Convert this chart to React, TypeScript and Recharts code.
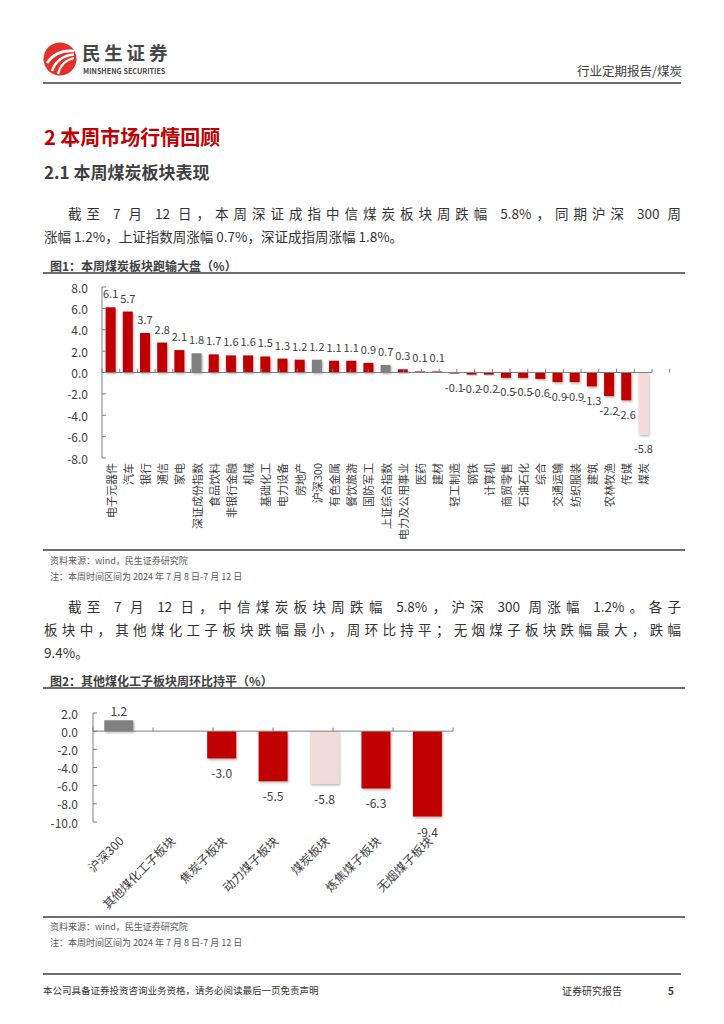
import React from "react";
import { BarChart, Bar, XAxis, YAxis, Cell, ReferenceLine } from "recharts";

const FONT = '"Noto Sans CJK SC", "Noto Sans", sans-serif';
const RED = "#C00000";
const GRAY = "#808080";
const PINK = "#F2DCDB";
const AXIS = "#7F7F7F";
const INK = "#404040";

// 图1：本周煤炭板块跑输大盘
const fig1Names = [
  "电子元器件", "汽车", "银行", "通信", "家电", "深证成份指数", "食品饮料", "非银行金融",
  "机械", "基础化工", "电力设备", "房地产", "沪深300", "有色金属", "餐饮旅游", "国防军工",
  "上证综合指数", "电力及公用事业", "医药", "建材", "轻工制造", "钢铁", "计算机", "商贸零售",
  "石油石化", "综合", "交通运输", "纺织服装", "建筑", "农林牧渔", "传媒", "煤炭",
];
const fig1Values = [
  6.1, 5.7, 3.7, 2.8, 2.1, 1.8, 1.7, 1.6, 1.6, 1.5, 1.3, 1.2, 1.2, 1.1, 1.1, 0.9,
  0.7, 0.3, 0.1, 0.1, -0.1, -0.2, -0.2, -0.5, -0.5, -0.6, -0.9, -0.9, -1.3, -2.2, -2.6, -5.8,
];
const fig1Indexes = ["深证成份指数", "沪深300", "上证综合指数"];
const fig1Focus = "煤炭";
const fig1Ticks = [-8, -6, -4, -2, 0, 2, 4, 6, 8];

// 图2：其他煤化工子板块周环比持平
const fig2Names = ["沪深300", "其他煤化工子板块", "焦炭子板块", "动力煤子板块", "煤炭板块", "炼焦煤子板块", "无烟煤子板块"];
const fig2Values = [1.2, 0.0, -3.0, -5.5, -5.8, -6.3, -9.4];
const fig2Indexes = ["沪深300"];
const fig2Focus = "煤炭板块";
const fig2Ticks = [-10, -8, -6, -4, -2, 0, 2];

const fig1Data = fig1Names.map((name, i) => ({ name, v: fig1Values[i] }));
const fig2Data = fig2Names.map((name, i) => ({ name, v: fig2Values[i] }));

const colorOf = (name: string, indexes: string[], focus: string) =>
  name === focus ? PINK : indexes.includes(name) ? GRAY : RED;

function makeYTick(margin: number, fontSize: number) {
  return (props: any) => {
    const { x, y, payload } = props;
    return (
      <g>
        <line x1={x + margin} x2={x + margin + 4} y1={y} y2={y} stroke={AXIS} strokeWidth={1} />
        <text x={x} y={y} textAnchor="end" dominantBaseline="central" fontSize={fontSize} fill={INK} fontFamily={FONT}>
          {Number(payload.value).toFixed(1)}
        </text>
      </g>
    );
  };
}

function VerticalTick(props: any) {
  const { x, y, payload } = props;
  return (
    <text
      transform={`translate(${x},${y}) rotate(-90)`}
      textAnchor="end"
      dominantBaseline="central"
      fontSize={11}
      fill={INK}
      fontFamily={FONT}
    >
      {payload.value}
    </text>
  );
}

function SlantTick(props: any) {
  const { x, y, payload } = props;
  return (
    <text
      transform={`translate(${x + 2},${y}) rotate(-45)`}
      textAnchor="end"
      dominantBaseline="central"
      fontSize={12}
      fill={INK}
      fontFamily={FONT}
    >
      {payload.value}
    </text>
  );
}

function makeValueLabel(fontSize: number, above: number, below: number) {
  return (props: any) => {
    const { x, y, width, height, value } = props;
    const top = Math.min(y, y + height);
    const bottom = Math.max(y, y + height);
    const ty = value >= 0 ? top - above : bottom + below;
    return (
      <text x={x + width / 2} y={ty} textAnchor="middle" fontSize={fontSize} fill={INK} fontFamily={FONT}>
        {Number(value).toFixed(1)}
      </text>
    );
  };
}

function BoundaryTicks(count: number, height: number) {
  return Array.from({ length: count + 1 }, (_, i) => (
    <ReferenceLine
      key={`b-${i}`}
      xAxisId="n"
      segment={[{ x: i, y: 0 }, { x: i, y: height }]}
      stroke={AXIS}
      strokeWidth={1}
      ifOverflow="visible"
    />
  ));
}

function Shadow({ id }: { id: string }) {
  return (
    <defs>
      <filter id={id} x="-30%" y="-30%" width="160%" height="160%">
        <feDropShadow dx={1} dy={1.5} stdDeviation={0.8} floodColor="#000" floodOpacity={0.3} />
      </filter>
    </defs>
  );
}

function Chart1() {
  return (
    <BarChart
      width={650}
      height={265}
      data={fig1Data}
      margin={{ top: 12, right: 38, bottom: 0, left: 0 }}
      barCategoryGap="21%"
    >
      <Shadow id="sh1" />
      <XAxis
        xAxisId="c"
        dataKey="name"
        interval={0}
        axisLine={false}
        tickLine={false}
        tickSize={0}
        tickMargin={5}
        height={82}
        tick={<VerticalTick />}
      />
      <XAxis xAxisId="n" type="number" domain={[0, fig1Names.length]} hide />
      <YAxis
        domain={[-8, 8]}
        ticks={fig1Ticks}
        width={62}
        axisLine={{ stroke: AXIS }}
        tickLine={false}
        tickSize={0}
        tickMargin={14}
        tick={makeYTick(14, 12)}
        interval={0}
      />
      <ReferenceLine xAxisId="c" y={0} stroke={AXIS} strokeWidth={1} />
      {BoundaryTicks(fig1Names.length, 0.35)}
      <Bar xAxisId="c" dataKey="v" isAnimationActive={false} label={makeValueLabel(11, 9, 18.5)}>
        {fig1Data.map((d) => (
          <Cell key={d.name} fill={colorOf(d.name, fig1Indexes, fig1Focus)} filter="url(#sh1)" />
        ))}
      </Bar>
    </BarChart>
  );
}

function Chart2() {
  return (
    <BarChart
      width={421}
      height={212}
      data={fig2Data}
      margin={{ top: 13, right: 8, bottom: 0, left: 0 }}
      barCategoryGap="22%"
    >
      <Shadow id="sh2" />
      <XAxis
        xAxisId="c"
        dataKey="name"
        interval={0}
        axisLine={false}
        tickLine={false}
        tickSize={0}
        tickMargin={16}
        height={90}
        tick={<SlantTick />}
      />
      <XAxis xAxisId="n" type="number" domain={[0, fig2Names.length]} hide />
      <YAxis
        domain={[-10, 2]}
        ticks={fig2Ticks}
        width={53}
        axisLine={{ stroke: AXIS }}
        tickLine={false}
        tickSize={0}
        tickMargin={15}
        tick={makeYTick(15, 12)}
        interval={0}
      />
      <ReferenceLine xAxisId="c" y={0} stroke={AXIS} strokeWidth={1} />
      {BoundaryTicks(fig2Names.length, 0.4)}
      <Bar xAxisId="c" dataKey="v" isAnimationActive={false} label={makeValueLabel(12, 4.5, 20)}>
        {fig2Data.map((d) => (
          <Cell key={d.name} fill={colorOf(d.name, fig2Indexes, fig2Focus)} filter="url(#sh2)" />
        ))}
      </Bar>
    </BarChart>
  );
}

type LineProps = {
  x: number;
  y: number;
  w?: number;
  size?: number;
  lh?: number;
  color?: string;
  bold?: boolean;
  justify?: boolean;
  children: React.ReactNode;
};

function TextLine({ x, y, w, size = 13.5, lh = 1.4, color = "#333333", bold, justify, children }: LineProps) {
  return (
    <div
      style={{
        position: "absolute",
        left: x,
        top: y - (size * lh) / 2,
        width: w,
        fontSize: size,
        lineHeight: `${size * lh}px`,
        color,
        fontWeight: bold ? 700 : 400,
        textAlign: justify ? "justify" : "left",
        textAlignLast: justify ? "justify" : "auto",
        whiteSpace: w ? "normal" : "nowrap",
      }}
    >
      {children}
    </div>
  );
}

function Rule({ y, x1 = 43, x2 = 685, color = "#6F6F6F", h = 1.5 }: { y: number; x1?: number; x2?: number; color?: string; h?: number }) {
  return <div style={{ position: "absolute", left: x1, top: y - h / 2, width: x2 - x1, height: h, background: color }} />;
}

function Logo() {
  return (
    <svg width={34} height={34} viewBox="0 0 34 34" style={{ position: "absolute", left: 43, top: 42 }}>
      <circle cx={17} cy={17} r={16.5} fill="#E1312A" />
      <path d="M4 21 C 10 12, 20 8, 31 9" stroke="#fff" strokeWidth={2.6} fill="none" />
      <path d="M9 29 C 12 20, 20 13, 31 12.5" stroke="#fff" strokeWidth={2.4} fill="none" />
      <path d="M15 32 C 17 24, 22 18, 31 16" stroke="#fff" strokeWidth={2.2} fill="none" />
    </svg>
  );
}

export default function App() {
  return (
    <div
      style={{
        position: "absolute",
        left: 0,
        top: 0,
        width: 724,
        height: 1024,
        background: "#fff",
        fontFamily: FONT,
        overflow: "hidden",
      }}
    >
      {/* header */}
      <Logo />
      <TextLine x={82} y={52.5} size={18.5} lh={1.05} bold color="#474747">
        <span style={{ letterSpacing: 3.8 }}>民生证券</span>
      </TextLine>
      <TextLine x={83} y={72} size={7.2} lh={1.1} bold color="#474747">
        MINSHENG SECURITIES
      </TextLine>
      <TextLine x={577} y={71} size={12.5} color={INK}>
        行业定期报告/煤炭
      </TextLine>
      <Rule y={83} x1={43} x2={681} />

      {/* headings */}
      <TextLine x={44} y={137} size={20} bold color={RED}>
        2 本周市场行情回顾
      </TextLine>
      <TextLine x={44} y={172} size={17} bold color={INK}>
        2.1 本周煤炭板块表现
      </TextLine>

      <TextLine x={68} y={213} w={613} justify>
        截至 7 月 12 日，本周深证成指中信煤炭板块周跌幅 5.8%，同期沪深 300 周
      </TextLine>
      <TextLine x={44} y={236}>
        涨幅 1.2%，上证指数周涨幅 0.7%，深证成指周涨幅 1.8%。
      </TextLine>

      {/* figure 1 */}
      <TextLine x={50} y={266} size={12} bold color={INK}>
        图1：本周煤炭板块跑输大盘（%）
      </TextLine>
      <Rule y={273} />
      <div style={{ position: "absolute", left: 40, top: 275 }}>
        <Chart1 />
      </div>
      <Rule y={550} />
      <TextLine x={50} y={561} size={9} color="#595959">
        资料来源：wind，民生证券研究院
      </TextLine>
      <TextLine x={50} y={577} size={9} color="#595959">
        注：本周时间区间为 2024 年 7 月 8 日-7 月 12 日
      </TextLine>

      <TextLine x={68} y={606} w={613} justify>
        截至 7 月 12 日，中信煤炭板块周跌幅 5.8%，沪深 300 周涨幅 1.2%。各子
      </TextLine>
      <TextLine x={44} y={629} w={637} justify>
        板块中，其他煤化工子板块跌幅最小，周环比持平；无烟煤子板块跌幅最大，跌幅
      </TextLine>
      <TextLine x={44} y={652}>
        9.4%。
      </TextLine>

      {/* figure 2 */}
      <TextLine x={50} y={681} size={12} bold color={INK}>
        图2：其他煤化工子板块周环比持平（%）
      </TextLine>
      <Rule y={688} />
      <div style={{ position: "absolute", left: 40, top: 700 }}>
        <Chart2 />
      </div>
      <Rule y={917} />
      <TextLine x={50} y={927} size={9} color="#595959">
        资料来源：wind，民生证券研究院
      </TextLine>
      <TextLine x={50} y={943} size={9} color="#595959">
        注：本周时间区间为 2024 年 7 月 8 日-7 月 12 日
      </TextLine>

      {/* footer */}
      <Rule y={974} x1={43} x2={681} />
      <TextLine x={43} y={991} size={9.5} color="#333333">
        本公司具备证券投资咨询业务资格，请务必阅读最后一页免责声明
      </TextLine>
      <TextLine x={562} y={991} size={10} color="#333333">
        证券研究报告
      </TextLine>
      <TextLine x={668} y={991} size={10} bold color="#333333">
        5
      </TextLine>
    </div>
  );
}
